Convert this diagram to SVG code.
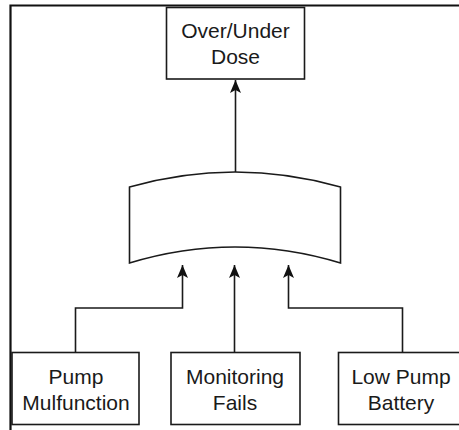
<svg xmlns="http://www.w3.org/2000/svg" width="459" height="430" viewBox="0 0 459 430">
<style>
.box{fill:#fff;stroke:#1a1a1a;stroke-width:1.6}
.lbl{font-family:"Liberation Sans",Arial,sans-serif;font-size:21px;fill:#1a1a1a;text-anchor:middle}
.edge{fill:none;stroke:#1a1a1a;stroke-width:1.6}
.frame{fill:none;stroke:#111;stroke-width:2.2}
</style>
<defs>
<marker id="arr" markerUnits="userSpaceOnUse" markerWidth="16" markerHeight="16" viewBox="-14 -8 16 16" refX="0" refY="0" orient="auto">
<path d="M0,0 L-13,-5.5 L-10,0 L-13,5.5 Z" fill="#111"/>
</marker>
</defs>
<rect width="459" height="430" fill="#fff"/>
<path class="frame" d="M10.5,430 L10.5,5.5 L459,5.5"/>
<g id="connectors">
<path class="edge" d="M235.5,172 L235.5,80" marker-end="url(#arr)"/>
<path class="edge" d="M75.5,352 L75.5,308 L182.5,308 L182.5,265" marker-end="url(#arr)"/>
<path class="edge" d="M234.5,352 L234.5,265" marker-end="url(#arr)"/>
<path class="edge" d="M402.5,352 L402.5,308 L288.5,308 L288.5,265" marker-end="url(#arr)"/>
</g>
<g id="top">
<rect class="box" x="166.5" y="7.5" width="138" height="71.5"/>
<text class="lbl" x="235.5" y="38">Over/Under</text>
<text class="lbl" x="235.5" y="64">Dose</text>
</g>
<g id="gate">
<path class="box" d="M129.5,187 Q235,157 340.5,187 L340.5,263 Q235,231 129.5,263 Z"/>
</g>
<g id="pump">
<rect class="box" x="12" y="352.5" width="127" height="72"/>
<text class="lbl" x="76" y="384">Pump</text>
<text class="lbl" x="76" y="410">Mulfunction</text>
</g>
<g id="monitoring">
<rect class="box" x="171" y="352.5" width="129" height="72"/>
<text class="lbl" x="235" y="384">Monitoring</text>
<text class="lbl" x="235" y="410">Fails</text>
</g>
<g id="battery">
<rect class="box" x="338.5" y="352.5" width="128" height="72"/>
<text class="lbl" x="401" y="384">Low Pump</text>
<text class="lbl" x="401" y="410">Battery</text>
</g>
</svg>
